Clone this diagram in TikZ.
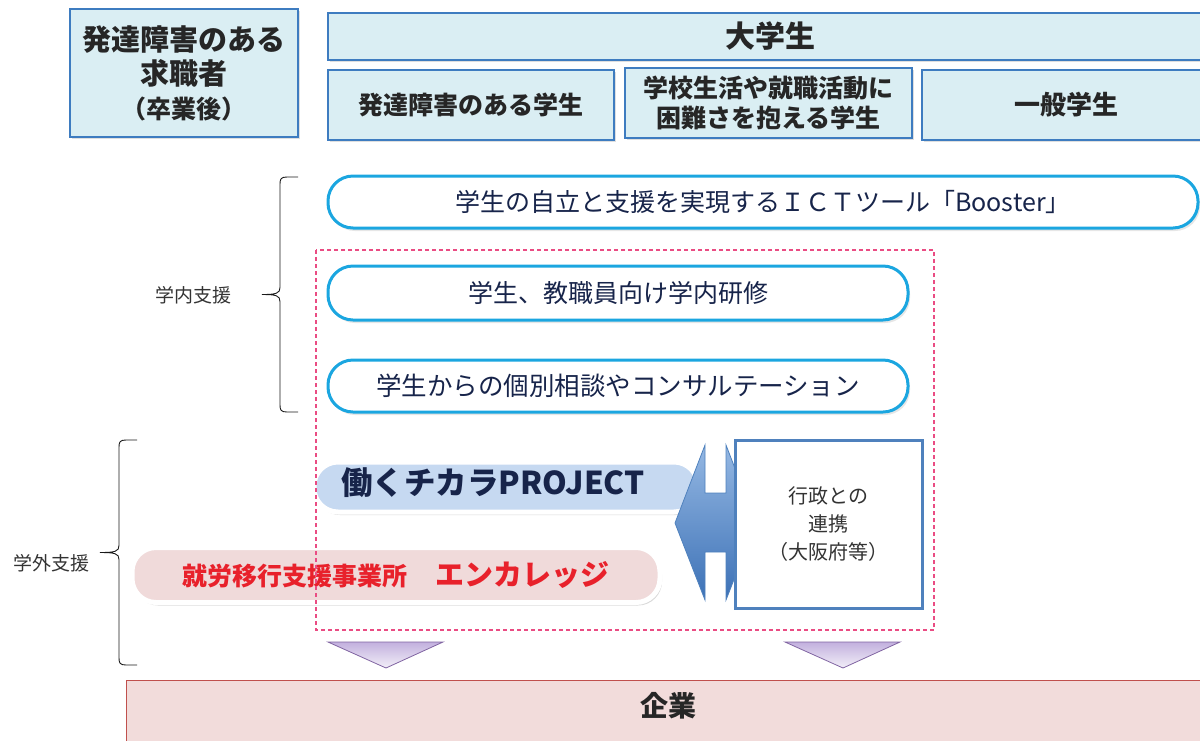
\documentclass[tikz,border=0pt]{standalone}
\usepackage{fontspec}
\setmainfont{Noto Sans CJK JP}
\usepackage{tikz}
\usetikzlibrary{shadows}
\definecolor{headfill}{HTML}{DAEEF3}
\definecolor{headline}{HTML}{3E7CC0}
\definecolor{pillline}{HTML}{1BA6E0}
\definecolor{navytext}{HTML}{17244A}
\definecolor{projfill}{HTML}{C6D9F1}
\definecolor{encfill}{HTML}{F0DADA}
\definecolor{enctext}{HTML}{E8212B}
\definecolor{dashpink}{HTML}{EA4C83}
\definecolor{govline}{HTML}{4F81BD}
\definecolor{arrowtop}{HTML}{95B8E3}
\definecolor{arrowbot}{HTML}{3C71B6}
\definecolor{trifill}{HTML}{C2B0DE}
\definecolor{triline}{HTML}{8064A2}
\definecolor{compfill}{HTML}{F2DCDB}
\definecolor{compline}{HTML}{C0504D}
\tikzset{%
	headbox/.style  = {draw=headline, line width=1.2pt, fill=headfill, align=center, text=black!85, inner sep=0pt, drop shadow={shadow xshift=2pt, shadow yshift=-2pt, opacity=0.25}},
	pill/.style     = {draw=pillline, line width=3pt, fill=white, rounded corners=25pt, text=navytext, inner sep=0pt, drop shadow={shadow xshift=2pt, shadow yshift=-3pt, opacity=0.2}},
	softpill/.style = {draw=white, line width=5pt, rounded corners=24pt, inner sep=0pt, drop shadow={shadow xshift=2pt, shadow yshift=-3pt, opacity=0.3}},
	sidelabel/.style= {text=black!80, font=\fsz{19}{22}},
	brace/.style    = {line width=0.9pt, black!90},
	downtri/.style  = {draw=triline, line width=0.8pt, top color=trifill, bottom color=trifill!20},
}
\newcommand{\fsz}[2]{\fontsize{#1}{#2}\selectfont}
% left brace: base x, top y, bottom y, arm x, tip x
\newcommand{\leftbrace}[5]{%
	\draw[brace] (#1,#2) -- (#4+7,#2) .. controls (#4+1,#2) and (#4,#2+2) .. (#4,#2+7)
		-- (#4,{(#2+#3)/2-7}) .. controls (#4,{(#2+#3)/2-1}) and (#4-4,{(#2+#3)/2}) .. (#5,{(#2+#3)/2})
		.. controls (#4-4,{(#2+#3)/2}) and (#4,{(#2+#3)/2+1}) .. (#4,{(#2+#3)/2+7})
		-- (#4,#3-7) .. controls (#4,#3-2) and (#4+1,#3) .. (#4+7,#3) -- (#1,#3);}

\begin{document}
\begin{tikzpicture}[x=1pt,y=-1pt]
		\useasboundingbox (0,0) rectangle (1200,740);
		
		% header boxes
		\node[headbox, minimum width=228, minimum height=128, font=\bfseries\fsz{29}{34}] (seeker) at (184,73) {発達障害のある\\求職者\\\fsz{25}{34}（卒業後）};
		\node[headbox, minimum width=884, minimum height=47, font=\bfseries\fsz{30}{34}] (univ) at (770,36.5) {大学生};
		\node[headbox, minimum width=286, minimum height=70, font=\bfseries\fsz{25}{30}] (devstud) at (471,105) {発達障害のある学生};
		\node[headbox, minimum width=287, minimum height=70, font=\bfseries\fsz{25}{30}] (hardstud) at (768.5,103) {学校生活や就職活動に\\困難さを抱える学生};
		\node[headbox, minimum width=288, minimum height=70, font=\bfseries\fsz{26}{30}] (genstud) at (1066,105) {一般学生};
		
		% support on campus
		\node[pill, minimum width=870, minimum height=52, font=\fsz{25}{28}] (booster) at (763,202) {学生の自立と支援を実現するＩＣＴツール「Booster」};
		\node[pill, minimum width=580, minimum height=54, font=\fsz{25}{28}] (training) at (618,293) {学生、教職員向け学内研修};
		\node[pill, minimum width=580, minimum height=52, font=\fsz{25.5}{28}] (consult) at (618,386) {学生からの個別相談やコンサルテーション};
		
		% support off campus
		\node[softpill, fill=projfill, minimum width=384, minimum height=50] (project) at (506,487) {};
		\node[text=navytext, font=\bfseries\fsz{31.5}{34}] (projtext) at (493,483) {働くチカラPROJECT};
		\node[softpill, fill=encfill, minimum width=528, minimum height=55, text=enctext, font=\bfseries] (encourage) at (396,575) {{\fsz{25}{30}就労移行支援事業所}\hspace{28pt}{\fsz{29}{30}エンカレッジ}};
		
		\draw[draw=govline, line width=0.8pt, top color=arrowtop, bottom color=arrowbot] (675,523) -- (705,445) -- (705,493) -- (726,493) -- (726,445) -- (756,523) -- (726,600) -- (726,552) -- (705,552) -- (705,600) -- cycle;
		\node[draw=govline, line width=3pt, fill=white, minimum width=187, minimum height=168, align=center, text=black!80, font=\fsz{20}{28}] (gov) at (828.5,524) {行政との\\連携\\（大阪府等）};
		
		\draw[dashpink, line width=1.2pt, dash pattern=on 4pt off 3pt] (316,250) rectangle (934,630);
		
		% braces
		\leftbrace{298}{177}{412}{280}{262}
		\node[sidelabel] (inlabel) at (193,295) {学内支援};
		
		\leftbrace{137}{440}{665}{119}{100}
		\node[sidelabel] (outlabel) at (51,563) {学外支援};
		
		% to the companies
		\draw[downtri] (328,642) -- (443,642) -- (386,668) -- cycle;
		\draw[downtri] (785,642) -- (900,642) -- (843,668) -- cycle;
		\node[draw=compline, line width=0.8pt, fill=compfill, minimum width=1084, minimum height=62, inner sep=0pt] (company) at (668,711) {};
		\node[text=black!85, font=\bfseries\fsz{28}{30}] (comptext) at (668,706) {企業};
\end{tikzpicture}
\end{document}
